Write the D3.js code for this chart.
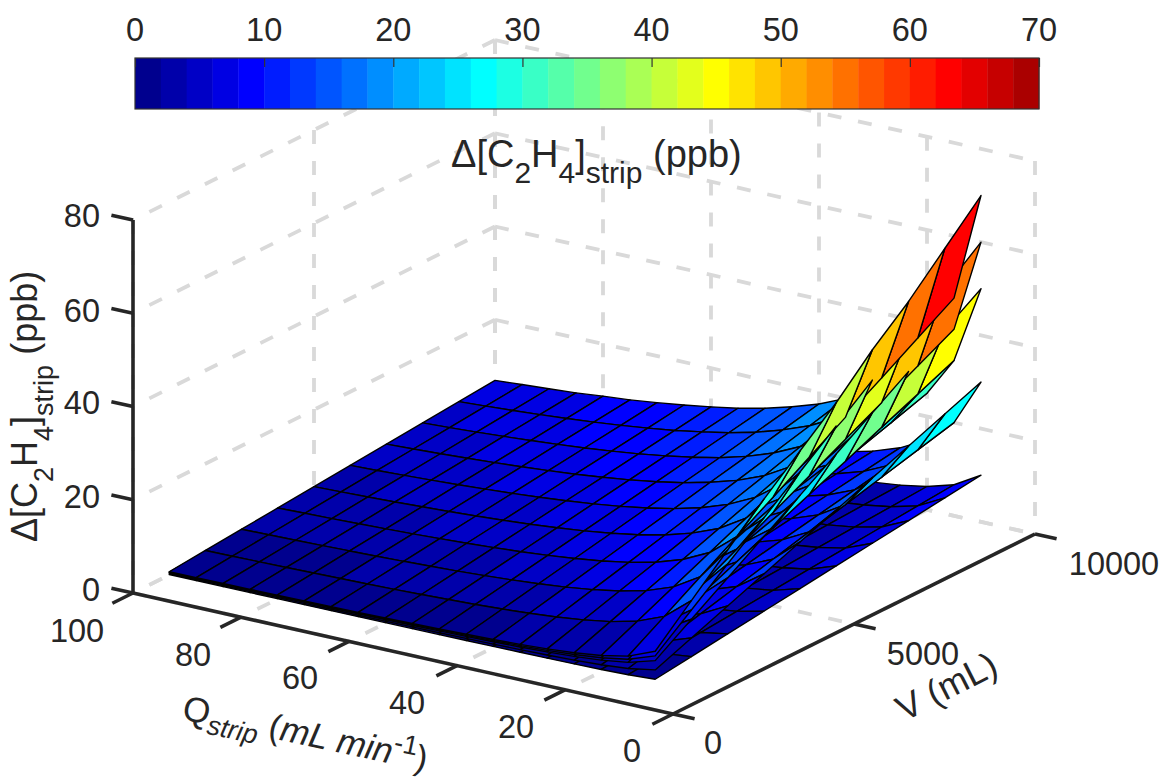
<!DOCTYPE html>
<html>
<head>
<meta charset="utf-8">
<script src="https://cdn.jsdelivr.net/npm/d3@7"></script>
<style>
  html, body { margin: 0; padding: 0; background: #fff; }
  text { font-family: "Liberation Sans", Arial, sans-serif; fill: #262626; }
</style>
</head>
<body>
<div class="surface-container"></div>
<script>
// Values.
const q_values = [10, 15, 20, 25, 30, 35, 40, 45, 50, 55, 60, 65, 70, 75, 80, 85, 90, 95, 100];
const v_values = [1000, 2000, 3000, 4000, 5000, 6000, 7000, 8000, 9000, 10000];

const z_ticks = [0, 20, 40, 60, 80];
const q_ticks = [0, 20, 40, 60, 80, 100];
const v_ticks = [0, 5000, 10000];
const colorbar_ticks = [0, 10, 20, 30, 40, 50, 60, 70];

// One row per V, one column per Q.
const sheet70 = [
  [7, 4.67, 3.5, 2.8, 2.33, 2, 1.75, 1.56, 1.4, 1.27, 1.17, 1.08, 1, 0.93, 0.88, 0.82, 0.78, 0.74, 0.7],
  [14, 9.33, 7, 5.6, 4.67, 4, 3.5, 3.11, 2.8, 2.55, 2.33, 2.15, 2, 1.87, 1.75, 1.65, 1.56, 1.47, 1.4],
  [21, 14, 10.5, 8.4, 7, 6, 5.25, 4.67, 4.2, 3.82, 3.5, 3.23, 3, 2.8, 2.63, 2.47, 2.33, 2.21, 2.1],
  [28, 18.7, 14, 11.2, 9.33, 8, 7, 6.22, 5.6, 5.09, 4.67, 4.31, 4, 3.73, 3.5, 3.29, 3.11, 2.95, 2.8],
  [34.5, 23.3, 17.5, 14, 11.7, 10, 8.75, 7.78, 7, 6.36, 5.83, 5.38, 5, 4.67, 4.38, 4.12, 3.89, 3.68, 3.5],
  [41, 28, 21, 16.8, 14, 12, 10.5, 9.33, 8.4, 7.64, 7, 6.46, 6, 5.6, 5.25, 4.94, 4.67, 4.42, 4.2],
  [48.5, 32.7, 24.5, 19.6, 16.3, 14, 12.3, 10.9, 9.8, 8.91, 8.17, 7.54, 7, 6.53, 6.13, 5.76, 5.44, 5.16, 4.9],
  [55, 37.3, 28, 22.4, 18.7, 16, 14, 12.4, 11.2, 10.2, 9.33, 8.62, 8, 7.47, 7, 6.59, 6.22, 5.89, 5.6],
  [62.5, 42, 31.5, 25.2, 21, 18, 15.8, 14, 12.6, 11.5, 10.5, 9.69, 9, 8.4, 7.88, 7.41, 7, 6.63, 6.3],
  [70, 46.7, 35, 28, 23.3, 20, 17.5, 15.6, 14, 12.7, 11.7, 10.8, 10, 9.3, 8.8, 8.2, 7.8, 7.4, 7],
];
const sheet60 = [
  [6, 4, 3, 2.4, 2, 1.71, 1.5, 1.33, 1.2, 1.09, 1, 0.92, 0.86, 0.8, 0.75, 0.71, 0.67, 0.63, 0.6],
  [12, 8, 6, 4.8, 4, 3.43, 3, 2.67, 2.4, 2.18, 2, 1.85, 1.71, 1.6, 1.5, 1.41, 1.33, 1.26, 1.2],
  [18, 12, 9, 7.2, 6, 5.14, 4.5, 4, 3.6, 3.27, 3, 2.77, 2.57, 2.4, 2.25, 2.12, 2, 1.89, 1.8],
  [24, 16, 12, 9.6, 8, 6.86, 6, 5.33, 4.8, 4.36, 4, 3.69, 3.43, 3.2, 3, 2.82, 2.67, 2.53, 2.4],
  [30, 20, 15, 12, 10, 8.57, 7.5, 6.67, 6, 5.45, 5, 4.62, 4.29, 4, 3.75, 3.53, 3.33, 3.16, 3],
  [36, 24, 18, 14.4, 12, 10.3, 9, 8, 7.2, 6.55, 6, 5.54, 5.14, 4.8, 4.5, 4.24, 4, 3.79, 3.6],
  [42, 28, 21, 16.8, 14, 12, 10.5, 9.33, 8.4, 7.64, 7, 6.46, 6, 5.6, 5.25, 4.94, 4.67, 4.42, 4.2],
  [48, 32, 24, 19.2, 16, 13.7, 12, 10.7, 9.6, 8.73, 8, 7.38, 6.86, 6.4, 6, 5.65, 5.33, 5.05, 4.8],
  [54, 36, 27, 21.6, 18, 15.4, 13.5, 12, 10.8, 9.82, 9, 8.31, 7.71, 7.2, 6.75, 6.35, 6, 5.68, 5.4],
  [60, 40, 30, 24, 20, 17.1, 15, 13.3, 12, 10.9, 10, 9.23, 8.57, 8, 7.5, 7.06, 6.67, 6.32, 6],
];
const sheet50 = [
  [5, 3.33, 2.5, 2, 1.67, 1.43, 1.25, 1.11, 1, 0.91, 0.83, 0.77, 0.71, 0.67, 0.63, 0.59, 0.56, 0.53, 0.5],
  [10, 6.67, 5, 4, 3.33, 2.86, 2.5, 2.22, 2, 1.82, 1.67, 1.54, 1.43, 1.33, 1.25, 1.18, 1.11, 1.05, 1],
  [15, 10, 7.5, 6, 5, 4.29, 3.75, 3.33, 3, 2.73, 2.5, 2.31, 2.14, 2, 1.88, 1.76, 1.67, 1.58, 1.5],
  [20, 13.3, 10, 8, 6.67, 5.71, 5, 4.44, 4, 3.64, 3.33, 3.08, 2.86, 2.67, 2.5, 2.35, 2.22, 2.11, 2],
  [25, 16.7, 12.5, 10, 8.33, 7.14, 6.25, 5.56, 5, 4.55, 4.17, 3.85, 3.57, 3.33, 3.13, 2.94, 2.78, 2.63, 2.5],
  [30, 20, 15, 12, 10, 8.57, 7.5, 6.67, 6, 5.45, 5, 4.62, 4.29, 4, 3.75, 3.53, 3.33, 3.16, 3],
  [35, 23.3, 17.5, 14, 11.7, 10, 8.75, 7.78, 7, 6.36, 5.83, 5.38, 5, 4.67, 4.38, 4.12, 3.89, 3.68, 3.5],
  [40, 26.7, 20, 16, 13.3, 11.4, 10, 8.89, 8, 7.27, 6.67, 6.15, 5.71, 5.33, 5, 4.71, 4.44, 4.21, 4],
  [45, 30, 22.5, 18, 15, 12.9, 11.3, 10, 9, 8.18, 7.5, 6.92, 6.43, 6, 5.63, 5.29, 5, 4.74, 4.5],
  [50, 33.3, 25, 20, 16.7, 14.3, 12.5, 11.1, 10, 9.09, 8.33, 7.69, 7.14, 6.67, 6.25, 5.88, 5.56, 5.26, 5],
];
const sheet30 = [
  [3, 2, 1.5, 1.2, 1, 0.86, 0.75, 0.67, 0.6, 0.55, 0.5, 0.46, 0.43, 0.4, 0.38, 0.35, 0.33, 0.32, 0.3],
  [6, 4, 3, 2.4, 2, 1.71, 1.5, 1.33, 1.2, 1.09, 1, 0.92, 0.86, 0.8, 0.75, 0.71, 0.67, 0.63, 0.6],
  [9, 6, 4.5, 3.6, 3, 2.57, 2.25, 2, 1.8, 1.64, 1.5, 1.38, 1.29, 1.2, 1.13, 1.06, 1, 0.95, 0.9],
  [12, 8, 6, 4.8, 4, 3.43, 3, 2.67, 2.4, 2.18, 2, 1.85, 1.71, 1.6, 1.5, 1.41, 1.33, 1.26, 1.2],
  [15, 10, 7.5, 6, 5, 4.29, 3.75, 3.33, 3, 2.73, 2.5, 2.31, 2.14, 2, 1.88, 1.76, 1.67, 1.58, 1.5],
  [18, 12, 9, 7.2, 6, 5.14, 4.5, 4, 3.6, 3.27, 3, 2.77, 2.57, 2.4, 2.25, 2.12, 2, 1.89, 1.8],
  [21, 14, 10.5, 8.4, 7, 6, 5.25, 4.67, 4.2, 3.82, 3.5, 3.23, 3, 2.8, 2.63, 2.47, 2.33, 2.21, 2.1],
  [24, 16, 12, 9.6, 8, 6.86, 6, 5.33, 4.8, 4.36, 4, 3.69, 3.43, 3.2, 3, 2.82, 2.67, 2.53, 2.4],
  [27, 18, 13.5, 10.8, 9, 7.71, 6.75, 6, 5.4, 4.91, 4.5, 4.15, 3.86, 3.6, 3.38, 3.18, 3, 2.84, 2.7],
  [30, 20, 15, 12, 10, 8.57, 7.5, 6.67, 6, 5.45, 5, 4.62, 4.29, 4, 3.75, 3.53, 3.33, 3.16, 3],
];
const sheet10 = [
  [1, 0.67, 0.5, 0.4, 0.33, 0.29, 0.25, 0.22, 0.2, 0.18, 0.17, 0.15, 0.14, 0.13, 0.13, 0.12, 0.11, 0.11, 0.1],
  [2, 1.33, 1, 0.8, 0.67, 0.57, 0.5, 0.44, 0.4, 0.36, 0.33, 0.31, 0.29, 0.27, 0.25, 0.24, 0.22, 0.21, 0.2],
  [3, 2, 1.5, 1.2, 1, 0.86, 0.75, 0.67, 0.6, 0.55, 0.5, 0.46, 0.43, 0.4, 0.38, 0.35, 0.33, 0.32, 0.3],
  [4, 2.67, 2, 1.6, 1.33, 1.14, 1, 0.89, 0.8, 0.73, 0.67, 0.62, 0.57, 0.53, 0.5, 0.47, 0.44, 0.42, 0.4],
  [5, 3.33, 2.5, 2, 1.67, 1.43, 1.25, 1.11, 1, 0.91, 0.83, 0.77, 0.71, 0.67, 0.63, 0.59, 0.56, 0.53, 0.5],
  [6, 4, 3, 2.4, 2, 1.71, 1.5, 1.33, 1.2, 1.09, 1, 0.92, 0.86, 0.8, 0.75, 0.71, 0.67, 0.63, 0.6],
  [7, 4.67, 3.5, 2.8, 2.33, 2, 1.75, 1.56, 1.4, 1.27, 1.17, 1.08, 1, 0.93, 0.88, 0.82, 0.78, 0.74, 0.7],
  [8, 5.33, 4, 3.2, 2.67, 2.29, 2, 1.78, 1.6, 1.45, 1.33, 1.23, 1.14, 1.07, 1, 0.94, 0.89, 0.84, 0.8],
  [9, 6, 4.5, 3.6, 3, 2.57, 2.25, 2, 1.8, 1.64, 1.5, 1.38, 1.29, 1.2, 1.13, 1.06, 1, 0.95, 0.9],
  [10, 6.67, 5, 4, 3.33, 2.86, 2.5, 2.22, 2, 1.82, 1.67, 1.54, 1.43, 1.33, 1.25, 1.18, 1.11, 1.05, 1],
];
const sheets = [sheet70, sheet60, sheet50, sheet30, sheet10];

// Jet colormap with 35 levels, same steps as the colorbar.
function jetChannel(i, start) {
  // ramp of 9 up, flat, ramp of 9 down, i is 1 based
  const up = (i - start) / 9;
  const down = (start + 27 - i) / 9;
  return Math.round(255 * Math.max(0, Math.min(1, up, down)));
}
const levels = d3.range(1, 36).map((i) => {
  return d3.rgb(jetChannel(i, 14), jetChannel(i, 5), jetChannel(i, -4)).formatHex();
});
const color = d3.scaleQuantize().domain([0, 70]).range(levels);

// Scales, each axis of the box goes to 0..1 and then through the view.
const qScale = d3.scaleLinear().domain([0, 100]).range([0, 1]);
const vScale = d3.scaleLinear().domain([0, 10000]).range([0, 1]);
const zScale = d3.scaleLinear().domain([0, 80]).range([0, 1]);

const origin = { x: 673, y: 714 };
const qVec = { x: -540, y: -121 };
const vVec = { x: 362, y: -180 };
const zHeight = 373;

function project(q, v, z) {
  const a = qScale(q);
  const b = vScale(v);
  return [
    origin.x + a * qVec.x + b * vVec.x,
    origin.y + a * qVec.y + b * vVec.y - zScale(z) * zHeight,
  ];
}

// Bigger is further from the viewer.
function depth(q, v, z) {
  return qScale(q) + 1.492 * vScale(v) - 1.044 * zScale(z);
}

const svg = d3
  .select(".surface-container")
  .append("svg")
  .attr("width", 1161)
  .attr("height", 781)
  .style("display", "block");

// Draw grid.
const gridColor = "#d9d9d9";
const grid = svg
  .append("g")
  .attr("class", "grid")
  .attr("fill", "none")
  .attr("stroke", gridColor)
  .attr("stroke-width", 3.8)
  .attr("stroke-dasharray", "14 17");

function gridLine(a, b) {
  const p = project(a[0], a[1], a[2]);
  const r = project(b[0], b[1], b[2]);
  grid
    .append("line")
    .attr("x1", p[0])
    .attr("y1", p[1])
    .attr("x2", r[0])
    .attr("y2", r[1]);
}

z_ticks.forEach((z) => {
  gridLine([100, 10000, z], [100, 0, z]);
  gridLine([100, 10000, z], [0, 10000, z]);
});
q_ticks.forEach((q) => {
  gridLine([q, 10000, 80], [q, 10000, 0]);
  gridLine([q, 10000, 0], [q, 0, 0]);
});
v_ticks.forEach((v) => {
  gridLine([100, v, 80], [100, v, 0]);
  gridLine([100, v, 0], [0, v, 0]);
});

// Build the cells of all the sheets, then paint back to front.
const cells = [];
sheets.forEach((sheet) => {
  for (let i = 0; i < sheet.length - 1; i++) {
    for (let j = 0; j < sheet[i].length - 1; j++) {
      const corners = [
        [q_values[j], v_values[i], sheet[i][j]],
        [q_values[j + 1], v_values[i], sheet[i][j + 1]],
        [q_values[j + 1], v_values[i + 1], sheet[i + 1][j + 1]],
        [q_values[j], v_values[i + 1], sheet[i + 1][j]],
      ];
      cells.push({
        corners: corners,
        value: sheet[i][j],
        depth: d3.mean(corners, (c) => depth(c[0], c[1], c[2])),
      });
    }
  }
});
cells.sort((a, b) => b.depth - a.depth);

svg
  .append("g")
  .attr("class", "surface")
  .selectAll("path")
  .data(cells)
  .enter()
  .append("path")
  .attr("d", (d) => d3.line()(d.corners.map((c) => project(c[0], c[1], c[2]))) + "Z")
  .attr("fill", (d) => color(d.value))
  .attr("stroke", "#000")
  .attr("stroke-width", 1.4)
  .attr("stroke-linejoin", "round");

// Draw axes.
const axisColor = "#262626";
const axes = svg
  .append("g")
  .attr("class", "axes")
  .attr("stroke", axisColor)
  .attr("stroke-width", 3.6)
  .attr("stroke-linecap", "butt");

function axisLine(a, b) {
  const p = project(a[0], a[1], a[2]);
  const r = project(b[0], b[1], b[2]);
  axes
    .append("line")
    .attr("x1", p[0])
    .attr("y1", p[1])
    .attr("x2", r[0])
    .attr("y2", r[1]);
}

axisLine([100, 0, 0], [100, 0, 80]);
axisLine([100, 0, 0], [0, 0, 0]);
axisLine([0, 0, 0], [0, 10000, 0]);
z_ticks.forEach((z) => axisLine([100, 0, z], [104, 0, z]));
q_ticks.forEach((q) => axisLine([q, 0, 0], [q, -570, 0]));
v_ticks.forEach((v) => axisLine([0, v, 0], [-4, v, 0]));

// Tick labels.
const labels = svg.append("g").attr("class", "tick-labels").attr("font-size", 32.5);

const zLabelY = [215, 310, 402, 496, 589];
labels
  .selectAll(".z-label")
  .data(z_ticks)
  .enter()
  .append("text")
  .attr("class", "z-label")
  .attr("x", 100)
  .attr("y", (d, i) => zLabelY[z_ticks.length - 1 - i] + 11.5)
  .attr("text-anchor", "end")
  .text((d) => d);

const qLabelPos = [[632, 750], [516, 726], [407, 702], [300, 677], [193, 654], [77, 630]];
labels
  .selectAll(".q-label")
  .data(q_ticks)
  .enter()
  .append("text")
  .attr("class", "q-label")
  .attr("x", (d, i) => qLabelPos[i][0])
  .attr("y", (d, i) => qLabelPos[i][1] + 11.5)
  .attr("text-anchor", "middle")
  .text((d) => d);

const vLabelPos = [[713, 742], [923, 653], [1114, 563]];
labels
  .selectAll(".v-label")
  .data(v_ticks)
  .enter()
  .append("text")
  .attr("class", "v-label")
  .attr("x", (d, i) => vLabelPos[i][0])
  .attr("y", (d, i) => vLabelPos[i][1] + 11.5)
  .attr("text-anchor", "middle")
  .text((d) => d);

// Axis titles.
function stripTitle(sel, subSize, drop) {
  sel.append("tspan").text("Δ[C");
  sel.append("tspan").attr("dy", drop).attr("font-size", subSize).text("2");
  sel.append("tspan").attr("dy", -drop).text("H");
  sel.append("tspan").attr("dy", drop).attr("font-size", subSize).text("4");
  sel.append("tspan").attr("dy", -drop).text("]");
  sel.append("tspan").attr("dy", drop).attr("font-size", subSize).text("strip");
  sel.append("tspan").attr("dy", -drop).text(" (ppb)");
}

svg
  .append("text")
  .attr("font-size", 38)
  .attr("x", 451)
  .attr("y", 167)
  .call(stripTitle, 30, 16);

svg
  .append("text")
  .attr("font-size", 36)
  .attr("transform", "translate(37,542) rotate(-90)")
  .call(stripTitle, 27, 16);

const qTitle = svg
  .append("text")
  .attr("font-size", 35)
  .attr("transform", "translate(181,719) rotate(12)");
qTitle.append("tspan").text("Q");
qTitle.append("tspan").attr("dy", 9).attr("font-size", 27).attr("font-style", "italic").text("strip");
qTitle.append("tspan").attr("dy", -9).text(" (");
qTitle.append("tspan").attr("font-style", "italic").text("mL min");
qTitle.append("tspan").attr("dy", -13).attr("font-size", 27).text("-1");
qTitle.append("tspan").attr("dy", 13).text(")");

svg
  .append("text")
  .attr("font-size", 36)
  .attr("transform", "translate(904,722) rotate(-27)")
  .text("V (mL)");

// Draw colorbar.
const barScale = d3.scaleLinear().domain([0, 70]).range([135, 1039]);
const barTop = 58;
const barHeight = 51;
const bar = svg.append("g").attr("class", "colorbar");

bar
  .selectAll("rect")
  .data(levels)
  .enter()
  .append("rect")
  .attr("x", (d, i) => barScale(i * 2))
  .attr("y", barTop)
  .attr("width", (d, i) => barScale((i + 1) * 2) - barScale(i * 2) + 0.4)
  .attr("height", barHeight)
  .attr("fill", (d) => d);

bar
  .append("rect")
  .attr("x", barScale(0))
  .attr("y", barTop)
  .attr("width", barScale(70) - barScale(0))
  .attr("height", barHeight)
  .attr("fill", "none")
  .attr("stroke", "#333")
  .attr("stroke-width", 1.2);

const barAxis = d3.axisBottom(barScale).tickValues(colorbar_ticks).tickSize(9).tickFormat("");
const barAxisDraw = bar.append("g").attr("transform", `translate(0, ${barTop})`).call(barAxis);
barAxisDraw.select(".domain").remove();
barAxisDraw.selectAll("line").attr("stroke", "#333").attr("stroke-width", 1.2);

bar
  .selectAll(".bar-label")
  .data(colorbar_ticks)
  .enter()
  .append("text")
  .attr("class", "bar-label")
  .attr("x", (d) => barScale(d))
  .attr("y", 40.5)
  .attr("text-anchor", "middle")
  .attr("font-size", 32.5)
  .text((d) => d);
</script>
</body>
</html>
